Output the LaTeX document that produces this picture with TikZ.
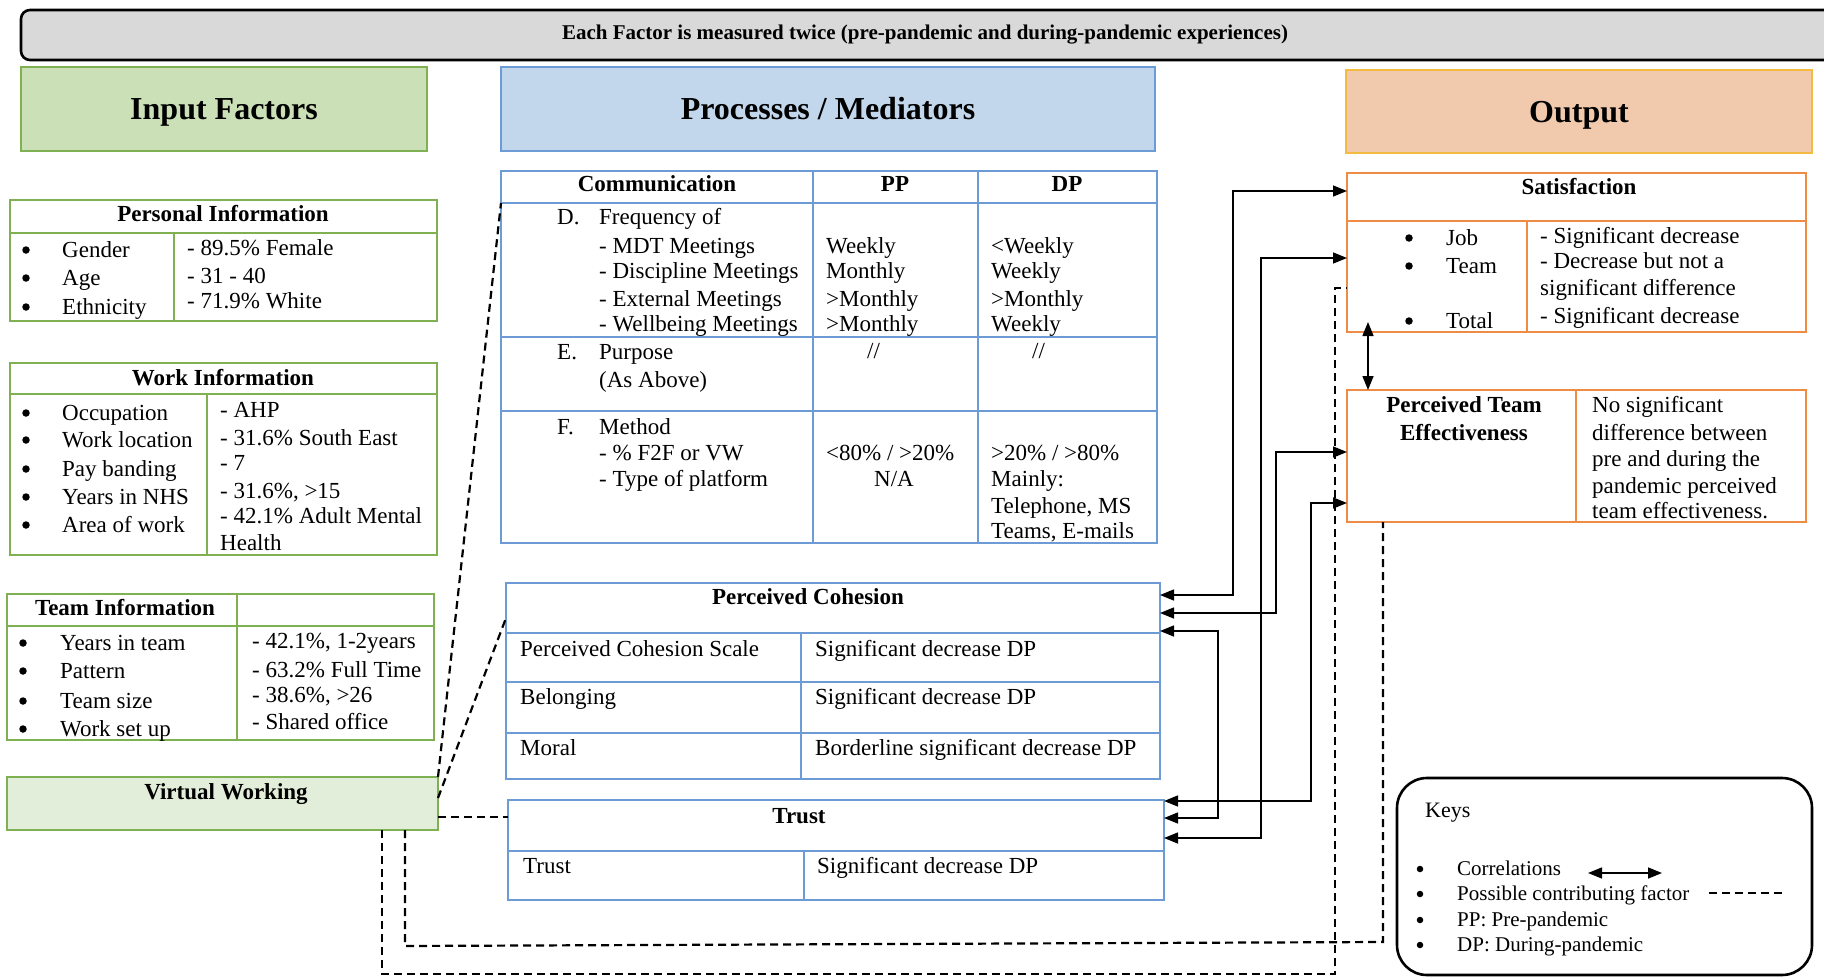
\documentclass[tikz,border=0pt]{standalone}
\usepackage{fontspec}
\setmainfont{Liberation Serif}
\usetikzlibrary{arrows.meta}
\definecolor{grnB}{HTML}{7FB052}
\definecolor{grnF}{HTML}{CCE0B7}
\definecolor{vwF}{HTML}{E3EEDA}
\definecolor{bluB}{HTML}{6C9BD5}
\definecolor{bluF}{HTML}{C2D7EC}
\definecolor{orgB}{HTML}{EE8B45}
\definecolor{outB}{HTML}{F3BC40}
\definecolor{outF}{HTML}{F1CAAE}
\definecolor{banF}{HTML}{D9D9D9}
\begin{document}
\begin{tikzpicture}[x=1pt,y=-1pt,
  tx/.style={anchor=base west,inner sep=0pt,font=\fontsize{23}{27}\selectfont},
  tb/.style={anchor=base,inner sep=0pt,font=\fontsize{23}{27}\selectfont\bfseries},
  tc/.style={anchor=base,inner sep=0pt,font=\fontsize{23}{27}\selectfont},
  kx/.style={anchor=base west,inner sep=0pt,font=\fontsize{21}{25}\selectfont},
  dot/.style={circle,fill=black,inner sep=0pt,minimum size=7.5pt},
  kdot/.style={circle,fill=black,inner sep=0pt,minimum size=6.5pt},
  frame/.style={anchor=north west,inner sep=0pt,outer sep=0pt,line width=2.6pt},
  hdr/.style={frame,font=\fontsize{32}{38}\selectfont\bfseries,text height=22pt,text depth=0pt},
  gl/.style={grnB,line width=2.6pt},
  bl/.style={bluB,line width=2.6pt},
  ol/.style={orgB,line width=2.6pt},
  corr/.style={line width=1.5pt,{Triangle[length=14pt,width=11pt]}-{Triangle[length=14pt,width=11pt]}},
  dashln/.style={line width=2.2pt,dash pattern=on 8pt off 5pt}
]
\useasboundingbox (0,0) rectangle (1824,979);
\clip (0,0) rectangle (1824,979);

% banner
\node[frame,draw=black,fill=banF,rounded corners=9pt,minimum width=1840,minimum height=50] (ban) at (21,10) {};
\node[anchor=base,inner sep=0pt,font=\fontsize{21}{25}\selectfont\bfseries] (banT) at (925,40) {Each Factor is measured twice (pre-pandemic and during-pandemic experiences)};

% column headers
\node[hdr,draw=grnB,fill=grnF,minimum width=406,minimum height=84] (inp) at (21,67) {Input Factors};
\node[hdr,draw=bluB,fill=bluF,minimum width=654,minimum height=84] (proc) at (501,67) {Processes / Mediators};
\node[hdr,draw=outB,fill=outF,minimum width=466,minimum height=83] (out) at (1346,70) {Output};

% ---------- Personal Information
\node[frame,draw=grnB,minimum width=427,minimum height=121] (PI) at (10,200) {};
\draw[gl] (10,233) -- (437,233) (174,233) -- (174,321);
\node[tb] (piH) at (223,222) {Personal Information};
\foreach \t/\yy [count=\i] in {Gender/257,Age/285,Ethnicity/314}{
  \node[dot] (pib\i) at (26,\yy-7) {};
  \node[tx] (pil\i) at (62,\yy) {\t};}
\foreach \t/\yy [count=\i] in {- 89.5\% Female/255,- 31 - 40/283,- 71.9\% White/308}{
  \node[tx] (pir\i) at (187,\yy) {\t};}

% ---------- Work Information
\node[frame,draw=grnB,minimum width=427,minimum height=192] (WI) at (10,363) {};
\draw[gl] (10,394) -- (437,394) (207,394) -- (207,555);
\node[tb] (wiH) at (223,385) {Work Information};
\foreach \t/\yy [count=\i] in {Occupation/420,Work location/447,Pay banding/476,Years in NHS/504,Area of work/532}{
  \node[dot] (wib\i) at (26,\yy-7) {};
  \node[tx] (wil\i) at (62,\yy) {\t};}
\foreach \t/\yy [count=\i] in {- AHP/417,- 31.6\% South East/445,- 7/470,{- 31.6\%, >15}/498,- 42.1\% Adult Mental/523,Health/550}{
  \node[tx] (wir\i) at (220,\yy) {\t};}

% ---------- Team Information
\node[frame,draw=grnB,minimum width=427,minimum height=146] (TI) at (7,594) {};
\draw[gl] (7,626) -- (434,626) (237,594) -- (237,740);
\node[tb] (tiH) at (125,615) {Team Information};
\foreach \t/\yy [count=\i] in {Years in team/650,Pattern/678,Team size/708,Work set up/736}{
  \node[dot] (tib\i) at (23,\yy-7) {};
  \node[tx] (til\i) at (60,\yy) {\t};}
\foreach \t/\yy [count=\i] in {{- 42.1\%, 1-2years}/648,- 63.2\% Full Time/677,{- 38.6\%, >26}/702,- Shared office/729}{
  \node[tx] (tir\i) at (252,\yy) {\t};}

% ---------- Virtual Working
\node[frame,draw=grnB,fill=vwF,minimum width=431,minimum height=53] (VW) at (7,777) {};
\node[tb] (vwT) at (226,799) {Virtual Working};

% ---------- Communication
\node[frame,draw=bluB,minimum width=656,minimum height=372] (CT) at (501,171) {};
\draw[bl] (501,203) -- (1157,203) (501,337) -- (1157,337) (501,411) -- (1157,411)
          (813,171) -- (813,543) (978,171) -- (978,543);
\node[tb] (ctH1) at (657,192) {Communication};
\node[tb] (ctH2) at (895,192) {PP};
\node[tb] (ctH3) at (1067,192) {DP};
\node[tx] (ctD) at (557,224) {D.};
\node[tx] (ctE) at (557,359) {E.};
\node[tx] (ctF) at (557,434) {F.};
\foreach \t/\yy [count=\i] in {Frequency of/224,- MDT Meetings/253,- Discipline Meetings/278,- External Meetings/306,- Wellbeing Meetings/331,
    Purpose/359,(As Above)/387,Method/434,- \% F2F or VW/460,- Type of platform/486}{
  \node[tx] (cta\i) at (599,\yy) {\t};}
\foreach \t/\yy [count=\i] in {Weekly/253,Monthly/278,>Monthly/306,>Monthly/331}{
  \node[tx] (ctp\i) at (826,\yy) {\t};}
\node[tx] (ctpM) at (826,460) {<80\% / >20\%};
\node[tc] (ctpNA) at (894,486) {N/A};
\foreach \t/\yy [count=\i] in {<Weekly/253,Weekly/278,>Monthly/306,Weekly/331,Mainly:/486,{Telephone, MS}/513,{Teams, E-mails}/538}{
  \node[tx] (ctd\i) at (991,\yy) {\t};}
\node[tx] (ctdM) at (991,460) {>20\% / >80\%};
\node[tx] (ctpS) at (867,358) {//};
\node[tx] (ctdS) at (1032,358) {//};

% ---------- Perceived Cohesion
\node[frame,draw=bluB,minimum width=654,minimum height=196] (PC) at (506,583) {};
\draw[bl] (506,633) -- (1160,633) (506,682) -- (1160,682) (506,733) -- (1160,733) (801,633) -- (801,779);
\node[tb] (pcH) at (808,604) {Perceived Cohesion};
\foreach \t/\u/\yy [count=\i] in {Perceived Cohesion Scale/Significant decrease DP/656,Belonging/Significant decrease DP/704,Moral/Borderline significant decrease DP/755}{
  \node[tx] (pcl\i) at (520,\yy) {\t};
  \node[tx] (pcr\i) at (815,\yy) {\u};}

% ---------- Trust
\node[frame,draw=bluB,minimum width=656,minimum height=100] (TR) at (508,800) {};
\draw[bl] (508,851) -- (1164,851) (804,851) -- (804,900);
\node[tb] (trH) at (799,823) {Trust};
\node[tx] (trl) at (523,873) {Trust};
\node[tx] (trr) at (817,873) {Significant decrease DP};

% ---------- Satisfaction
\node[frame,draw=orgB,minimum width=459,minimum height=159] (SA) at (1347,173) {};
\draw[ol] (1347,221) -- (1806,221) (1527,221) -- (1527,332);
\node[tb] (saH) at (1579,194) {Satisfaction};
\foreach \t/\yy [count=\i] in {Job/245,Team/273,Total/328}{
  \node[dot] (sab\i) at (1409,\yy-7) {};
  \node[tx] (sal\i) at (1446,\yy) {\t};}
\foreach \t/\yy [count=\i] in {- Significant decrease/243,- Decrease but not a/268,significant difference/295,- Significant decrease/323}{
  \node[tx] (sar\i) at (1540,\yy) {\t};}

% ---------- Perceived Team Effectiveness
\node[frame,draw=orgB,minimum width=459,minimum height=132] (PTE) at (1347,390) {};
\draw[ol] (1576,390) -- (1576,522);
\node[tb] (pteH1) at (1464,412) {Perceived Team};
\node[tb] (pteH2) at (1464,440) {Effectiveness};
\foreach \t/\yy [count=\i] in {No significant/412,difference between/440,pre and during the/466,pandemic perceived/493,team effectiveness./518}{
  \node[tx] (pter\i) at (1592,\yy) {\t};}

% ---------- Keys
\node[frame,draw=black,rounded corners=30pt,minimum width=415,minimum height=197] (KEY) at (1397,778) {};
\node[anchor=base west,inner sep=0pt,font=\fontsize{22}{26}\selectfont] (keyT) at (1425,817) {Keys};
\foreach \t/\yy [count=\i] in {Correlations/875,Possible contributing factor/900,PP: Pre-pandemic/926,DP: During-pandemic/951}{
  \node[kdot] (kyb\i) at (1420,\yy-6) {};
  \node[kx] (kyl\i) at (1457,\yy) {\t};}
\coordinate (k1a) at (1588,873);
\coordinate (k1b) at (1662,873);
\coordinate (k2a) at (1709,893);
\coordinate (k2b) at (1786,893);
\draw[corr] (k1a) -- (k1b);
\draw[dashln] (k2a) -- (k2b);

% ---------- possible contributing factors (dashed)
\draw[dashln] (VW.north east) -- (CT.west |- 0,203);
\draw[dashln] (VW.east |- 0,798) -- (PC.west |- 0,618);
\draw[dashln] (VW.east |- 0,817) -- (TR.west |- 0,817);
\draw[dashln] (VW.south -| 382,0) -- (382,974) -- (1335,974) -- (1335,288) -- (SA.west |- 0,288);
\draw[dashln] (VW.south -| 405,0) -- (405,946) -- (1383,942) -- (PTE.south -| 1383,0);

% ---------- correlations
\draw[corr] (PC.east |- 0,595) -| (1233,191) -- (SA.west |- 0,191);
\draw[corr] (PC.east |- 0,613) -| (1276,452) -- (PTE.west |- 0,452);
\draw[corr] (PC.east |- 0,631) -| (1218,818) -- (TR.east |- 0,818);
\draw[corr] (TR.east |- 0,801) -| (1311,503) -- (PTE.west |- 0,503);
\draw[corr] (TR.east |- 0,838) -| (1261,258) -- (SA.west |- 0,258);
\draw[corr,shorten <=-10pt] (SA.south -| 1368,0) -- (PTE.north -| 1368,0);
\end{tikzpicture}
\end{document}
